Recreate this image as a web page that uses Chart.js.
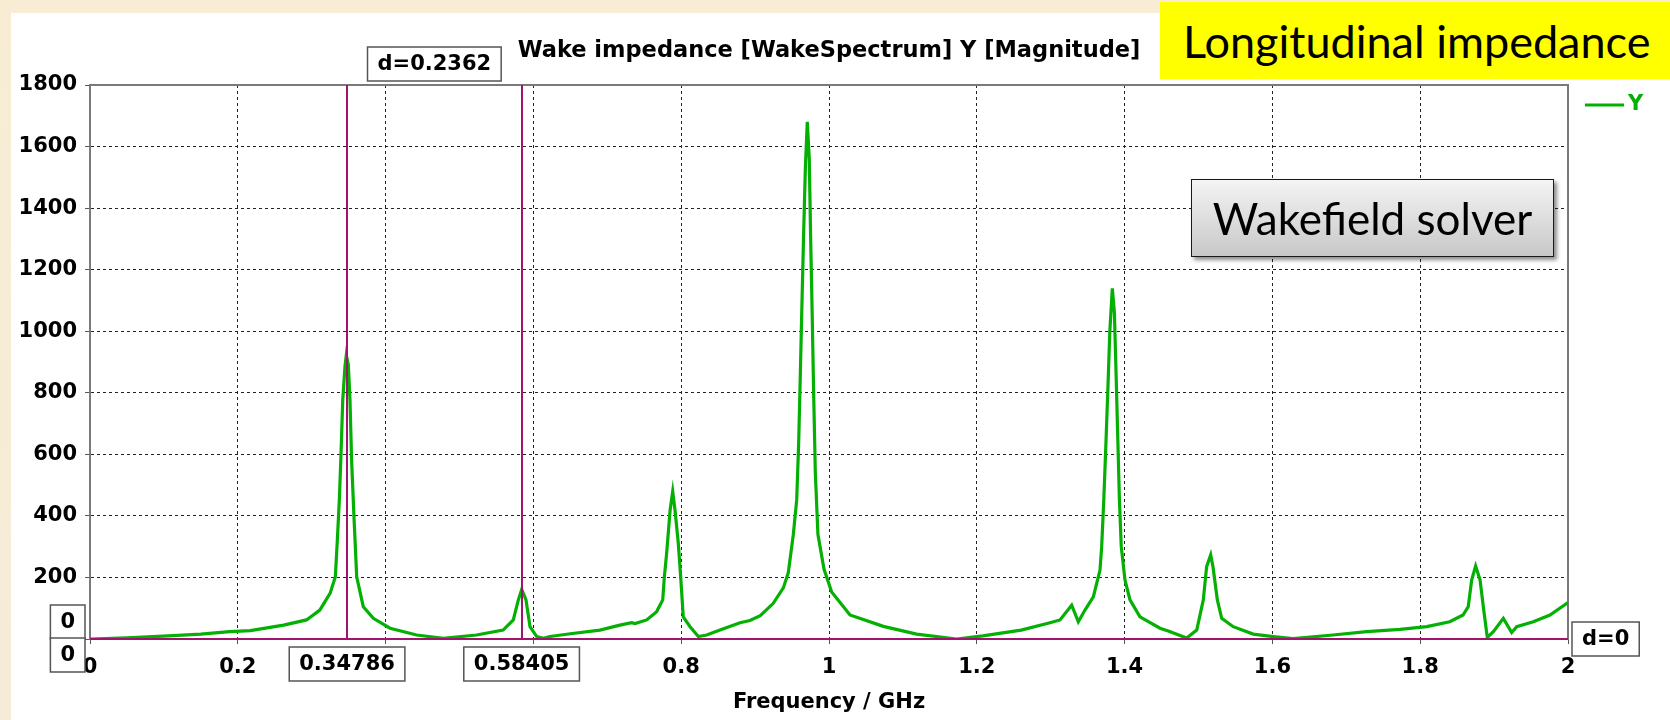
<!DOCTYPE html>
<html>
<head>
<meta charset="utf-8">
<title>Wake impedance</title>
<script src="https://cdn.jsdelivr.net/npm/chart.js@4.4.1/dist/chart.umd.min.js"></script>
<style>
  html, body { margin: 0; padding: 0; }
  body {
    width: 1670px; height: 720px; overflow: hidden; position: relative;
    background: linear-gradient(#f8edd4, #f5ecd8);
  }
  #panel { position: absolute; left: 11px; top: 13px; right: 0; bottom: 0; background: #fff; }
  #chart { position: absolute; left: 0; top: 0; }
  #banner {
    position: absolute; left: 1160px; top: 2px; width: 510px; height: 77px;
    box-sizing: border-box; padding-left: 23px; background: #ffff00; color: #000;
    font-family: Lato, "Open Sans", sans-serif; font-size: 45px;
    display: flex; align-items: center; white-space: nowrap;
  }
  #solver {
    position: absolute; left: 1191px; top: 179px; width: 363px; height: 78px;
    box-sizing: border-box; border: 1.5px solid #1a1a1a;
    background: linear-gradient(#f4f4f4, #c8c8c8);
    box-shadow: 3px 3px 4px rgba(0,0,0,0.45);
    font-family: Lato, "Open Sans", sans-serif; font-size: 44px; color: #000;
    display: flex; align-items: center; justify-content: center; white-space: nowrap;
  }
</style>
</head>
<body>
<div id="panel"></div>
<canvas id="chart" width="1670" height="720"></canvas>
<div id="banner">Longitudinal impedance</div>
<div id="solver">Wakefield solver</div>

<script>
// wake spectrum, magnitude vs frequency
const freqGHz = [
  0.000, 0.050, 0.106, 0.150, 0.189, 0.217, 0.262, 0.293, 0.311, 0.325,
  0.332, 0.3347, 0.3374, 0.3397, 0.342, 0.345, 0.3468, 0.3496, 0.3518, 0.354,
  0.3572, 0.3609, 0.3698, 0.3834, 0.406, 0.442, 0.478, 0.523, 0.559, 0.5728,
  0.5796, 0.5842, 0.590, 0.5954, 0.6045, 0.6134, 0.6225, 0.650, 0.690, 0.717,
  0.733, 0.7375, 0.7533, 0.7668, 0.775, 0.7772, 0.7803, 0.785, 0.7885, 0.7916,
  0.7961, 0.7993, 0.8028, 0.812, 0.8232, 0.8345, 0.8525, 0.8796, 0.893, 0.907,
  0.9246, 0.9382, 0.9449, 0.9517, 0.9563, 0.9590, 0.9612, 0.9633, 0.9655, 0.9680,
  0.9706, 0.9733, 0.9752, 0.9772, 0.9793, 0.9815, 0.9850, 0.9932, 1.0036, 1.0284,
  1.0735, 1.1186, 1.1727, 1.208, 1.260, 1.299, 1.3126, 1.3284, 1.3374, 1.3464,
  1.3577, 1.3667, 1.3690, 1.3718, 1.3745, 1.3772, 1.3800, 1.3834, 1.3862, 1.3885,
  1.3908, 1.3930, 1.3955, 1.4005, 1.4073, 1.4208, 1.4479, 1.460, 1.484, 1.4976,
  1.5065, 1.511, 1.5165, 1.5196, 1.5255, 1.5314, 1.547, 1.574, 1.601, 1.628,
  1.682, 1.7276, 1.7727, 1.8088, 1.840, 1.858, 1.865, 1.8697, 1.875, 1.881,
  1.8854, 1.8908, 1.899, 1.9125, 1.9238, 1.9306, 1.953, 1.9756, 2.000
];
const magnitude = [
  0, 4, 10, 16, 24, 27, 45, 62, 94, 149,
  202, 322, 452, 604, 776, 885, 922, 890, 776, 581,
  397, 202, 105, 67, 35, 13, 2, 13, 29, 62,
  127, 161, 127, 40, 8, 2, 8, 17, 29, 45,
  53, 50, 62, 89, 127, 202, 278, 419, 479, 419,
  311, 202, 72, 40, 8, 13, 29, 53, 60, 76,
  116, 166, 215, 339, 452, 640, 860, 1080, 1300, 1530,
  1680, 1560, 1300, 1060, 790, 540, 340, 227, 153, 78,
  41, 16, 0, 10, 29, 53, 62, 110, 56, 94,
  137, 224, 300, 450, 620, 800, 1000, 1139, 1060, 860,
  650, 450, 300, 192, 127, 72, 35, 25, 3, 29,
  127, 235, 273, 235, 127, 67, 40, 16, 8, 1,
  13, 24, 31, 40, 56, 78, 105, 192, 237, 192,
  105, 5, 24, 67, 21, 40, 56, 78, 118
];

const xTickLabels = ['0', '0.2', '0.4', '0.6', '0.8', '1', '1.2', '1.4', '1.6', '1.8', '2'];
const yTickLabels = ['0', '200', '400', '600', '800', '1000', '1200', '1400', '1600', '1800'];

// cursor lines: two frequency markers and one level marker
const markerFreqs = [0.34786, 0.58405];
const markerLevels = [0];

const labelFont = 'bold 21px "DejaVu Sans"';
const green = '#04b004';
const magenta = '#a0146e';

function labelBox(ctx, text, cx, cy) {
  ctx.font = labelFont;
  const w = ctx.measureText(text).width + 20;
  const h = 34;
  ctx.fillStyle = '#fff';
  ctx.fillRect(cx - w / 2, cy - h / 2, w, h);
  ctx.strokeStyle = '#555';
  ctx.lineWidth = 1.5;
  ctx.strokeRect(cx - w / 2, cy - h / 2, w, h);
  ctx.fillStyle = '#000';
  ctx.textAlign = 'center';
  ctx.textBaseline = 'middle';
  ctx.fillText(text, cx, cy + 1);
  return w;
}

const cursorPlugin = {
  id: 'cursors',
  beforeDatasetsDraw(chart) {
    const { ctx, chartArea: a } = chart;
    ctx.save();
    ctx.strokeStyle = '#7a7a7a';
    ctx.lineWidth = 2;
    ctx.beginPath();
    ctx.moveTo(a.left, a.top);
    ctx.lineTo(a.right, a.top);
    ctx.lineTo(a.right, a.bottom);
    ctx.stroke();
    ctx.restore();
  },
  afterDatasetsDraw(chart) {
    const { ctx, chartArea: a, scales: { x, y } } = chart;
    ctx.save();
    ctx.strokeStyle = magenta;
    ctx.lineWidth = 2;
    markerFreqs.forEach(f => {
      const px = Math.round(x.getPixelForValue(f));
      ctx.beginPath();
      ctx.moveTo(px, a.top);
      ctx.lineTo(px, a.bottom);
      ctx.stroke();
    });
    markerLevels.forEach(v => {
      const py = Math.round(y.getPixelForValue(v));
      ctx.beginPath();
      ctx.moveTo(a.left, py);
      ctx.lineTo(a.right, py);
      ctx.stroke();
    });
    ctx.restore();
  },
  afterDraw(chart) {
    const { ctx, chartArea: a, scales: { x, y } } = chart;
    ctx.save();

    // title
    ctx.font = 'bold 22.5px "DejaVu Sans"';
    ctx.fillStyle = '#000';
    ctx.textAlign = 'center';
    ctx.textBaseline = 'alphabetic';
    ctx.fillText('Wake impedance [WakeSpectrum] Y [Magnitude]', (a.left + a.right) / 2, 57);

    // legend
    ctx.font = labelFont;
    ctx.strokeStyle = green;
    ctx.lineWidth = 3;
    ctx.beginPath();
    ctx.moveTo(a.right + 17, 105);
    ctx.lineTo(a.right + 56, 105);
    ctx.stroke();
    ctx.fillStyle = green;
    ctx.textAlign = 'left';
    ctx.textBaseline = 'middle';
    ctx.fillText('Y', a.right + 60, 105);

    // frequency cursor values and their distance
    const px = markerFreqs.map(f => x.getPixelForValue(f));
    markerFreqs.forEach((f, i) => labelBox(ctx, f.toFixed(5), px[i], 664));
    const dF = (markerFreqs[1] - markerFreqs[0]).toFixed(4);
    labelBox(ctx, 'd=' + dF, (px[0] + px[1]) / 2, 64);

    // level cursor values at the left and its distance at the right
    const py = y.getPixelForValue(markerLevels[0]);
    ctx.font = labelFont;
    const w0 = ctx.measureText('0').width + 20;
    labelBox(ctx, '0', a.left - 5 - w0 / 2, py - 17);
    labelBox(ctx, '0', a.left - 5 - w0 / 2, py + 16);
    ctx.font = labelFont;
    const wd = ctx.measureText('d=0').width + 20;
    labelBox(ctx, 'd=0', a.right + 4 + wd / 2, py);

    ctx.restore();
  }
};

const points = freqGHz.map((f, i) => ({ x: f, y: magnitude[i] }));

new Chart(document.getElementById('chart'), {
  type: 'scatter',
  data: {
    datasets: [{
      label: 'Y',
      data: points,
      showLine: true,
      borderColor: green,
      borderWidth: 3.2,
      pointRadius: 0,
      tension: 0
    }]
  },
  options: {
    responsive: false,
    animation: false,
    devicePixelRatio: 1,
    layout: { padding: { left: 0, top: 85, right: 102, bottom: 0 } },
    plugins: {
      legend: { display: false },
      tooltip: { enabled: false }
    },
    scales: {
      x: {
        type: 'linear',
        min: 0,
        max: 2,
        afterFit: s => { s.height = 81; },
        ticks: {
          stepSize: 0.2,
          autoSkip: false,
          maxRotation: 0,
          padding: 11,
          color: '#000',
          font: { family: 'DejaVu Sans', size: 21, weight: 'bold' },
          callback: (v, i) => xTickLabels[i]
        },
        grid: { color: '#222', lineWidth: 1, tickLength: 5, tickColor: '#555' },
        border: { color: '#7a7a7a', width: 2, dash: [3, 3] },
        title: {
          display: true,
          text: 'Frequency / GHz',
          color: '#000',
          font: { family: 'DejaVu Sans', size: 21, weight: 'bold' },
          padding: { top: 0, bottom: 5 }
        }
      },
      y: {
        min: 0,
        max: 1800,
        afterFit: s => { s.width = 90; },
        ticks: {
          stepSize: 200,
          padding: 8,
          color: '#000',
          font: { family: 'DejaVu Sans', size: 21, weight: 'bold' },
          callback: (v, i) => yTickLabels[i]
        },
        grid: { color: '#222', lineWidth: 1, tickLength: 5, tickColor: '#555' },
        border: { color: '#7a7a7a', width: 2, dash: [3, 3] }
      }
    }
  },
  plugins: [cursorPlugin]
});
</script>
</body>
</html>
